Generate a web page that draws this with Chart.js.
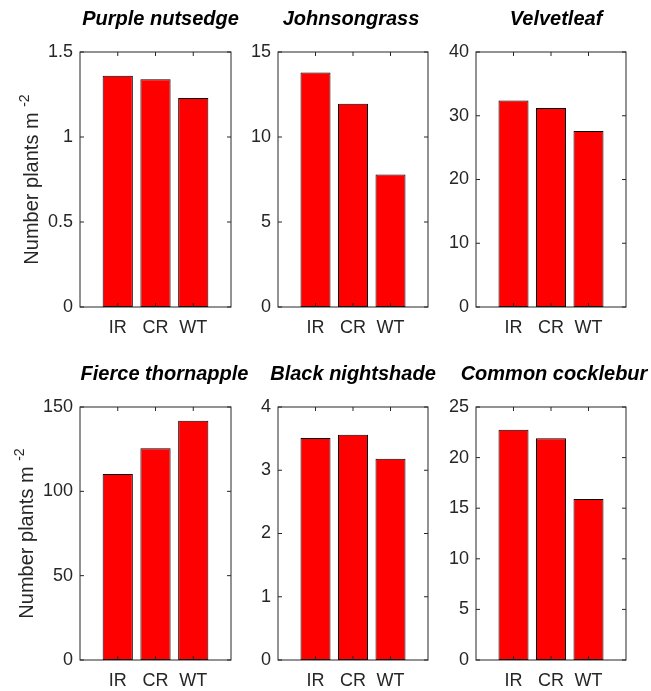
<!DOCTYPE html>
<html>
<head>
<meta charset="utf-8">
<script src="https://cdn.jsdelivr.net/npm/chart.js@4/dist/chart.umd.min.js"></script>
<style>
  body { margin: 0; background: #fff; }
  #fig { position: relative; width: 651px; height: 691px; background: #fff; overflow: hidden; }
  #fig canvas { position: absolute; }
</style>
</head>
<body>
<div id="fig"></div>
<script>
// treatments on the x axis
var categories = ["IR", "CR", "WT"];

// weed species (panel titles), left to right, top row then bottom row
var species = [
  "Purple nutsedge", "Johnsongrass", "Velvetleaf",
  "Fierce thornapple", "Black nightshade", "Common cocklebur"
];

// number of plants per m2
var purpleNutsedge   = [1.36, 1.34, 1.23];
var johnsongrass     = [13.8, 11.95, 7.8];
var velvetleaf       = [32.4, 31.2, 27.6];
var fierceThornapple = [110.3, 125.5, 141.9];
var blackNightshade  = [3.51, 3.56, 3.18];
var commonCocklebur  = [22.75, 21.9, 15.9];

// y axis limits and tick steps
var yMax  = [1.5, 15, 40, 150, 4, 25];
var yStep = [0.5, 5, 10, 50, 1, 5];

var yLabel = "Number plants m";
var yLabelSup = "-2";

var series = [purpleNutsedge, johnsongrass, velvetleaf,
              fierceThornapple, blackNightshade, commonCocklebur];

// panel plot areas (pixels in the figure) and title nudges
var colLeft = [80, 278, 476], colRight = [231, 428, 626];
var rowTop = [52, 407], rowBottom = [307, 660];
var titleShift = [5, -2, 5, 9, 0, 3];

var FONT = "'Liberation Sans', Arial, Helvetica, sans-serif";
var AXIS = "#262626";

// box round the axes, with MATLAB style inward ticks on all four sides
var frame = {
  id: "frame",
  afterDraw: function(chart) {
    var ctx = chart.ctx, a = chart.chartArea;
    var x = chart.scales.x, y = chart.scales.y;
    var tl = 4;
    ctx.save();
    ctx.strokeStyle = AXIS;
    ctx.lineWidth = 1;
    ctx.strokeRect(a.left, a.top, a.right - a.left, a.bottom - a.top);
    ctx.beginPath();
    x.ticks.forEach(function(t, i) {
      if (!x.getLabelForValue(t.value)) return;
      var px = x.getPixelForTick(i);
      ctx.moveTo(px, a.bottom); ctx.lineTo(px, a.bottom - tl);
      ctx.moveTo(px, a.top); ctx.lineTo(px, a.top + tl);
    });
    y.ticks.forEach(function(t) {
      var py = y.getPixelForValue(t.value);
      ctx.moveTo(a.left, py); ctx.lineTo(a.left + tl, py);
      ctx.moveTo(a.right, py); ctx.lineTo(a.right - tl, py);
    });
    ctx.stroke();
    ctx.restore();
  }
};

// rotated y label with a superscript exponent
var ylab = {
  id: "ylab",
  afterDraw: function(chart, args, opts) {
    if (!opts.text) return;
    var ctx = chart.ctx, a = chart.chartArea, y = chart.scales.y;
    ctx.save();
    ctx.font = "18px " + FONT;
    var maxw = 0;
    y.ticks.forEach(function(t) {
      maxw = Math.max(maxw, ctx.measureText(t.label).width);
    });
    var bx = a.left - 7 - maxw - 10;
    var cy = (a.top + a.bottom) / 2;
    ctx.font = "20px " + FONT;
    var w1 = ctx.measureText(opts.text + " ").width;
    ctx.font = "14px " + FONT;
    var w2 = ctx.measureText(opts.sup).width;
    ctx.translate(bx, cy);
    ctx.rotate(-Math.PI / 2);
    ctx.fillStyle = AXIS;
    ctx.textBaseline = "alphabetic";
    ctx.textAlign = "left";
    var start = -(w1 + w2) / 2;
    ctx.font = "20px " + FONT;
    ctx.fillText(opts.text, start, 0);
    ctx.font = "14px " + FONT;
    ctx.fillText(opts.sup, start + w1, -9);
    ctx.restore();
  }
};

var fig = document.getElementById("fig");

series.forEach(function(values, k) {
  var c = k % 3, r = Math.floor(k / 3);
  var pw = colRight[c] - colLeft[c], ph = rowBottom[r] - rowTop[r];
  // right margin mirrors the left one so the title centres on the plot
  var padR = 80 + 2 * titleShift[k];
  var canvas = document.createElement("canvas");
  canvas.width = 80 + pw + padR;
  canvas.height = 52 + ph + 40;
  canvas.style.left = (colLeft[c] - 80) + "px";
  canvas.style.top = (rowTop[r] - 52) + "px";
  fig.appendChild(canvas);

  new Chart(canvas.getContext("2d"), {
    type: "bar",
    data: {
      labels: [""].concat(categories, [""]),
      datasets: [{
        data: [null].concat(values, [null]),
        backgroundColor: "#ff0000",
        borderColor: "#000000",
        borderWidth: 1,
        borderSkipped: false,
        categoryPercentage: 1,
        barPercentage: 0.8
      }]
    },
    plugins: [frame, ylab],
    options: {
      responsive: false,
      animation: false,
      layout: { padding: 0 },
      plugins: {
        legend: { display: false },
        tooltip: { enabled: false },
        title: {
          display: true,
          text: species[k],
          color: "#000",
          font: { family: FONT, size: 20, style: "italic", weight: "bold", lineHeight: 1 },
          padding: { top: 9, bottom: 23 }
        },
        ylab: c === 0 ? { text: yLabel, sup: yLabelSup } : {}
      },
      scales: {
        x: {
          type: "category",
          offset: false,
          grid: { display: false, drawTicks: false },
          border: { display: false },
          ticks: {
            color: AXIS, padding: 10, autoSkip: false, maxRotation: 0,
            font: { family: FONT, size: 18 }
          },
          afterFit: function(s) { s.height = 40; }
        },
        y: {
          min: 0,
          max: yMax[k],
          grid: { display: false, drawTicks: false },
          border: { display: false },
          ticks: {
            stepSize: yStep[k], color: AXIS, padding: 7, autoSkip: false,
            font: { family: FONT, size: 18 },
            callback: function(v) { return String(+v.toFixed(2)); }
          },
          afterFit: function(s) { s.width = 80; }
        },
        spacer: {
          position: "right",
          grid: { display: false, drawTicks: false },
          border: { display: false },
          ticks: { display: false },
          afterFit: function(s) { s.width = padR; }
        }
      }
    }
  });
});
</script>
</body>
</html>
